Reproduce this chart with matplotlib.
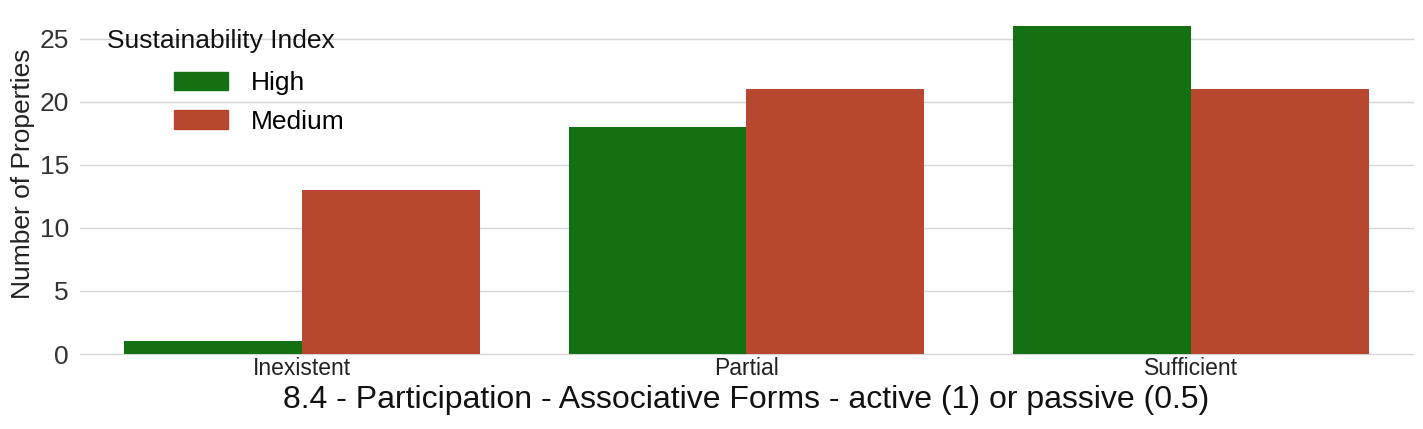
import matplotlib.pyplot as plt
import numpy as np
from matplotlib.patches import Patch

plt.rcParams["font.family"] = ["Liberation Sans", "DejaVu Sans"]

categories = ["Inexistent", "Partial", "Sufficient"]
series_names = ["High", "Medium"]
high_values = [1, 18, 26]
medium_values = [13, 21, 21]
colors = {"High": "#137013", "Medium": "#b7472f"}

fig = plt.figure(figsize=(14.23, 4.29), dpi=100)
ax = fig.add_axes([80 / 1423, 75 / 429, 1333 / 1423, 334 / 429])

x = np.arange(len(categories))
width = 0.4
ax.bar(x - width / 2, high_values, width, color=colors["High"], zorder=2)
ax.bar(x + width / 2, medium_values, width, color=colors["Medium"], zorder=2)

ax.set_xlim(-0.5, 2.5)
ax.set_ylim(0, 26.5)
ax.set_yticks([0, 5, 10, 15, 20, 25])
ax.set_xticks(x)
ax.set_xticklabels(categories, fontsize=16.5, color="#222222")
ax.tick_params(axis="y", labelsize=19, labelcolor="#333333", length=0, pad=8)
ax.tick_params(axis="x", length=0, pad=2)
ax.grid(axis="y", color="#d5d5d5", linewidth=1, zorder=0)
for line in ax.get_ygridlines():
    line.set_clip_on(False)
for spine in ax.spines.values():
    spine.set_visible(False)

ax.set_ylabel("Number of Properties", fontsize=19, color="#222222")
ax.yaxis.set_label_coords(-0.034, 0.539)
ax.set_xlabel("8.4 - Participation - Associative Forms - active (1) or passive (0.5)",
              fontsize=23, color="#111111", labelpad=4)

handles = [Patch(color=colors[n]) for n in series_names]
fig.text(107 / 1423, 1 - 41 / 429, "Sustainability Index", fontsize=19,
         va="center", ha="left", color="#111111")
fig.legend(handles, series_names, loc="upper left",
           bbox_to_anchor=(161 / 1423, 1 - 58 / 429), frameon=False,
           fontsize=19, handlelength=2.05, handleheight=0.72,
           handletextpad=0.85, labelspacing=0.55, borderpad=0)

fig.savefig("out.png", dpi=100)
